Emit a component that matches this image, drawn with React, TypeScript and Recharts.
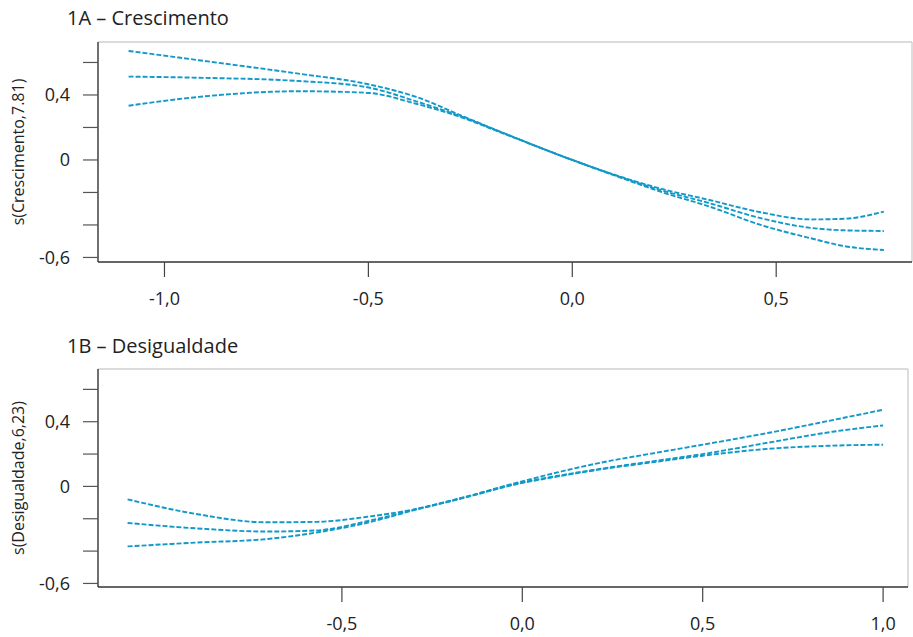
import React from 'react';
import { LineChart, Line, XAxis, YAxis, ReferenceLine } from 'recharts';

// Panel 1A – Crescimento
const xA = [-1.088, -0.916, -0.671, -0.506, -0.383, -0.26, -0.18, 0.0, 0.1, 0.216, 0.339, 0.462, 0.585, 0.666, 0.764];
const upperA = [0.671, 0.614, 0.531, 0.469, 0.388, 0.26, 0.178, 0.0, -0.088, -0.176, -0.248, -0.322, -0.366, -0.362, -0.318];
const fitA = [0.513, 0.506, 0.486, 0.449, 0.361, 0.256, 0.176, 0.0, -0.09, -0.185, -0.268, -0.358, -0.418, -0.433, -0.437];
const lowerA = [0.334, 0.388, 0.423, 0.414, 0.346, 0.252, 0.174, 0.0, -0.092, -0.195, -0.289, -0.4, -0.482, -0.53, -0.554];

// Panel 1B – Desigualdade
const xB = [-1.094, -0.9, -0.71, -0.57, -0.43, -0.3, -0.16, -0.02, 0.1, 0.22, 0.35, 0.5, 0.68, 0.86, 1.0];
const upperB = [-0.08, -0.172, -0.222, -0.219, -0.188, -0.142, -0.066, 0.02, 0.088, 0.148, 0.2, 0.258, 0.33, 0.41, 0.474];
const fitB = [-0.226, -0.26, -0.279, -0.272, -0.215, -0.144, -0.068, 0.015, 0.066, 0.11, 0.152, 0.2, 0.27, 0.338, 0.377];
const lowerB = [-0.371, -0.347, -0.326, -0.285, -0.225, -0.147, -0.07, 0.012, 0.062, 0.106, 0.146, 0.19, 0.232, 0.252, 0.258];

const yTicks = [-0.6, -0.4, -0.2, 0, 0.2, 0.4, 0.6];
const yTickLabels: Record<string, string> = { '-0.6': '-0,6', '0': '0', '0.4': '0,4' };
const xTicksA = [-1.0, -0.5, 0.0, 0.5];
const xTicksB = [-0.5, 0.0, 0.5, 1.0];

const titleA = '1A – Crescimento';
const titleB = '1B – Desigualdade';
const yLabelA = 's(Crescimento,7.81)';
const yLabelB = 's(Desigualdade,6,23)';

const buildRows = (xs: number[], u: number[], m: number[], l: number[]) =>
  xs.map((x, i) => ({ x, upper: u[i], fit: m[i], lower: l[i] }));

const dataA = buildRows(xA, upperA, fitA, lowerA);
const dataB = buildRows(xB, upperB, fitB, lowerB);

const FONT = '"Open Sans", "Noto Sans", sans-serif';
const LINE_COLOR = '#1199c8';
const tickStyle = { fontSize: 18, fill: '#222', fontFamily: FONT };
const fmtX = (v: number) => v.toFixed(1).replace('.', ',');
const fmtY = (v: number) => {
  const key = String(Math.round(v * 10) / 10);
  return yTickLabels[key] ?? '';
};

const series = ['upper', 'fit', 'lower'];

type PanelProps = {
  data: any[];
  height: number;
  marginTop: number;
  marginRight: number;
  marginBottom: number;
  xDomain: [number, number];
  yDomain: [number, number];
  xTicks: number[];
  yLabel: string;
  yLabelCenter: number;
};

function Panel(p: PanelProps) {
  const yLabelRender = () => (
    <text
      x={18}
      y={p.yLabelCenter}
      transform={`rotate(-90 18 ${p.yLabelCenter})`}
      textAnchor="middle"
      dominantBaseline="central"
      style={{ fontSize: 16, fill: '#222', fontFamily: FONT }}
    >
      {p.yLabel}
    </text>
  );
  return (
    <LineChart
      width={913}
      height={p.height}
      data={p.data}
      margin={{ top: p.marginTop, right: p.marginRight, left: 0, bottom: p.marginBottom }}
    >
      <XAxis
        dataKey="x"
        type="number"
        domain={p.xDomain}
        allowDataOverflow
        ticks={p.xTicks}
        tickFormatter={fmtX}
        height={50}
        tickSize={15}
        tickMargin={15}
        tick={tickStyle}
        axisLine={{ stroke: '#333', strokeWidth: 1.4 }}
        tickLine={{ stroke: '#444', strokeWidth: 1.2 }}
        interval={0}
      />
      <YAxis
        type="number"
        domain={p.yDomain}
        allowDataOverflow
        ticks={yTicks}
        tickFormatter={fmtY}
        width={98}
        tickSize={15}
        tickMargin={13}
        tick={tickStyle}
        axisLine={{ stroke: '#333', strokeWidth: 1.4 }}
        tickLine={{ stroke: '#555', strokeWidth: 1.2 }}
        interval={0}
        label={yLabelRender}
      />
      <ReferenceLine y={p.yDomain[1]} stroke="#cfcfcf" strokeWidth={1.4} ifOverflow="visible" />
      <ReferenceLine x={p.xDomain[1]} stroke="#cfcfcf" strokeWidth={1.4} ifOverflow="visible" />
      {series.map((k) => (
        <Line
          key={k}
          dataKey={k}
          type="monotone"
          stroke={LINE_COLOR}
          strokeWidth={1.9}
          strokeDasharray="5 2"
          dot={false}
          activeDot={false}
          isAnimationActive={false}
        />
      ))}
    </LineChart>
  );
}

const titleStyle: React.CSSProperties = {
  position: 'absolute',
  left: 67,
  fontFamily: FONT,
  fontSize: 20,
  color: '#222',
  lineHeight: '20px',
  whiteSpace: 'nowrap',
};

export default function App() {
  return (
    <div style={{ position: 'absolute', left: 0, top: 0, width: 913, height: 637, background: '#fff', overflow: 'hidden' }}>
      <div style={{ position: 'absolute', left: 0, top: 0 }}>
        <Panel
          data={dataA}
          height={320}
          marginTop={42}
          marginRight={1}
          marginBottom={8}
          xDomain={[-1.163, 0.833]}
          yDomain={[-0.628, 0.726]}
          xTicks={xTicksA}
          yLabel={yLabelA}
          yLabelCenter={152}
        />
      </div>
      <div style={{ position: 'absolute', left: 0, top: 320 }}>
        <Panel
          data={dataB}
          height={317}
          marginTop={49}
          marginRight={5}
          marginBottom={0}
          xDomain={[-1.176, 1.069]}
          yDomain={[-0.622, 0.726]}
          xTicks={xTicksB}
          yLabel={yLabelB}
          yLabelCenter={158}
        />
      </div>
      <div style={{ ...titleStyle, top: 8 }}>{titleA}</div>
      <div style={{ ...titleStyle, top: 336 }}>{titleB}</div>
    </div>
  );
}
